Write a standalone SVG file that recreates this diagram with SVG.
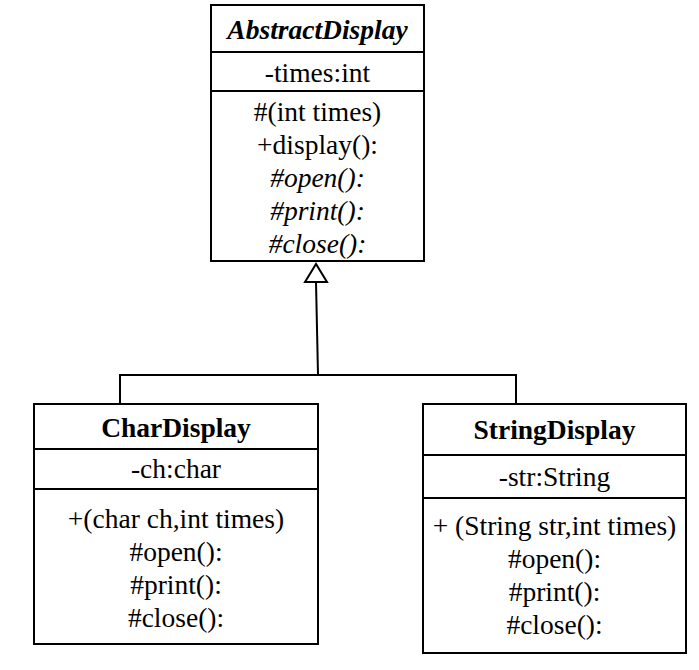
<svg xmlns="http://www.w3.org/2000/svg" width="699" height="670" viewBox="0 0 699 670">
<style>
.box{fill:#fff;stroke:#000;stroke-width:2}
.div{stroke:#000;stroke-width:2}
text{font-family:"Liberation Serif","Times New Roman",serif;font-size:27.5px;fill:#000;text-anchor:middle}
.t{font-weight:bold}
.i{font-style:italic}
.conn{fill:none;stroke:#000;stroke-width:2}
.head{fill:#fff;stroke:#000;stroke-width:2}
</style>
<rect width="699" height="670" fill="#fff"/>
<g id="connectors">
<polyline class="conn" points="120,404 120,375 516,375 516,404"/>
<line class="conn" x1="318" y1="375" x2="316" y2="282"/>
<polygon class="head" points="316,264 305,282 327,282"/>
</g>
<g id="AbstractDisplay">
<rect class="box" x="211" y="5" width="213" height="256"/>
<line class="div" x1="211" y1="52" x2="424" y2="52"/>
<line class="div" x1="211" y1="91" x2="424" y2="91"/>
<text class="t i" x="317.5" y="39">AbstractDisplay</text>
<text x="317.5" y="82">-times:int</text>
<text x="317.5" y="121">#(int times)</text>
<text x="317.5" y="154">+display():</text>
<text class="i" x="317.5" y="187">#open():</text>
<text class="i" x="317.5" y="220">#print():</text>
<text class="i" x="317.5" y="253">#close():</text>
</g>
<g id="CharDisplay">
<rect class="box" x="34" y="404" width="284" height="240"/>
<line class="div" x1="34" y1="449" x2="318" y2="449"/>
<line class="div" x1="34" y1="489" x2="318" y2="489"/>
<text class="t" x="176" y="437">CharDisplay</text>
<text x="176" y="478">-ch:char</text>
<text x="176" y="528">+(char ch,int times)</text>
<text x="176" y="561">#open():</text>
<text x="176" y="594">#print():</text>
<text x="176" y="627">#close():</text>
</g>
<g id="StringDisplay">
<rect class="box" x="423" y="404" width="263" height="249"/>
<line class="div" x1="423" y1="455" x2="686" y2="455"/>
<line class="div" x1="423" y1="498" x2="686" y2="498"/>
<text class="t" x="554.5" y="439">StringDisplay</text>
<text x="554.5" y="486">-str:String</text>
<text x="554.5" y="535">+ (String str,int times)</text>
<text x="554.5" y="568">#open():</text>
<text x="554.5" y="601">#print():</text>
<text x="554.5" y="634">#close():</text>
</g>
</svg>
